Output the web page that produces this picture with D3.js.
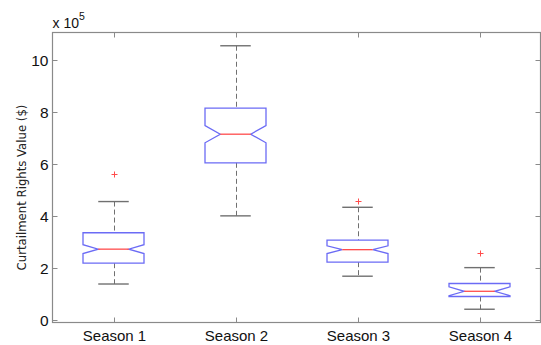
<!DOCTYPE html>
<html>
<head>
<meta charset="utf-8">
<script src="https://cdn.jsdelivr.net/npm/d3@7"></script>
<style>
  body { margin: 0; background: #fff; }
  svg { display: block; }
</style>
</head>
<body>
<div id="chart"></div>
<script>
// values in units of 1e5 $
const seasons = ["Season 1", "Season 2", "Season 3", "Season 4"];
const whiskerLo = [1.38, 4.0, 1.68, 0.41];
const q1 = [2.18, 6.04, 2.22, 0.90];
const median = [2.72, 7.14, 2.70, 1.10];
const q3 = [3.35, 8.14, 3.07, 1.40];
const whiskerHi = [4.55, 10.54, 4.33, 2.01];
const notchHalf = [0.17, 0.33, 0.15, 0.17];
const outliers = [[5.6], [], [4.58], [2.56]];
const yTicks = [0, 2, 4, 6, 8, 10];

const width = 541, height = 345;
const plot = { left: 52.5, right: 540.5, top: 32.5, bottom: 322.5 };

const svg = d3.select("#chart").append("svg")
    .attr("width", width)
    .attr("height", height);

const x = d3.scaleLinear().domain([0.5, 4.5]).range([plot.left, plot.right]);
const y = d3.scaleLinear().domain([-0.1, 11.05]).range([plot.bottom, plot.top]);

const axisColor = "#8a8a8a";
const tickLen = 5;
const font = "Liberation Sans, Arial, sans-serif";

// frame
svg.append("rect")
    .attr("x", plot.left).attr("y", plot.top)
    .attr("width", plot.right - plot.left)
    .attr("height", plot.bottom - plot.top)
    .attr("fill", "none")
    .attr("stroke", axisColor)
    .attr("stroke-width", 1.2);

// y ticks on both sides
yTicks.forEach(t => {
    const yy = Math.round(y(t)) + 0.5;
    svg.append("line").attr("x1", plot.left).attr("x2", plot.left + tickLen)
        .attr("y1", yy).attr("y2", yy).attr("stroke", axisColor);
    svg.append("line").attr("x1", plot.right).attr("x2", plot.right - tickLen)
        .attr("y1", yy).attr("y2", yy).attr("stroke", axisColor);
    svg.append("text")
        .attr("x", plot.left - 4)
        .attr("y", yy)
        .attr("dy", "0.36em")
        .attr("text-anchor", "end")
        .attr("font-family", font)
        .attr("font-size", "15.5px")
        .attr("fill", "#111")
        .text(t);
});

// x ticks top and bottom
seasons.forEach((s, i) => {
    const xx = Math.round(x(i + 1)) + 0.5;
    svg.append("line").attr("x1", xx).attr("x2", xx)
        .attr("y1", plot.bottom).attr("y2", plot.bottom - tickLen).attr("stroke", axisColor);
    svg.append("line").attr("x1", xx).attr("x2", xx)
        .attr("y1", plot.top).attr("y2", plot.top + tickLen).attr("stroke", axisColor);
    svg.append("text")
        .attr("x", xx)
        .attr("y", 340.5)
        .attr("text-anchor", "middle")
        .attr("font-family", font)
        .attr("font-size", "15px")
        .attr("fill", "#111")
        .text(s);
});

// exponent label
const expo = svg.append("text")
    .attr("x", plot.left)
    .attr("y", 28)
    .attr("font-family", font)
    .attr("font-size", "14px")
    .attr("fill", "#111");
expo.append("tspan").text("x 10");
expo.append("tspan").attr("dy", -8).attr("font-size", "10.5px").text("5");

// y label
svg.append("text")
    .attr("transform", `translate(26, ${(plot.top + plot.bottom) / 2 + 10}) rotate(-90)`)
    .attr("text-anchor", "middle")
    .attr("font-family", "Liberation Sans Narrow, DejaVu Sans Condensed, Arial, sans-serif")
    .attr("font-size", "13px")
    .attr("fill", "#222")
    .text("Curtailment Rights Value ($)");

const boxHalf = 0.25;   // box width 0.5
const capHalf = 0.125;
const boxColor = "#6b6bf5";
const medColor = "#ff4c4c";
const whiskColor = "#707070";

const g = svg.append("g");

seasons.forEach((s, i) => {
    const c = i + 1;
    const xl = x(c - boxHalf), xr = x(c + boxHalf);
    const nl = x(c - boxHalf / 2), nr = x(c + boxHalf / 2);
    const yq1 = y(q1[i]), yq3 = y(q3[i]), ym = y(median[i]);
    const ynLo = y(median[i] - notchHalf[i]), ynHi = y(median[i] + notchHalf[i]);
    const xc = Math.round(x(c)) + 0.5;

    // whiskers (dashed)
    g.append("line").attr("x1", xc).attr("x2", xc)
        .attr("y1", y(whiskerHi[i])).attr("y2", yq3)
        .attr("stroke", whiskColor).attr("stroke-dasharray", "5,3");
    g.append("line").attr("x1", xc).attr("x2", xc)
        .attr("y1", yq1).attr("y2", y(whiskerLo[i]))
        .attr("stroke", whiskColor).attr("stroke-dasharray", "5,3");
    // caps
    [whiskerHi[i], whiskerLo[i]].forEach(v => {
        g.append("line").attr("x1", x(c - capHalf)).attr("x2", x(c + capHalf))
            .attr("y1", y(v)).attr("y2", y(v))
            .attr("stroke", whiskColor).attr("stroke-width", 1.4);
    });

    // notched box
    const pts = [
        [xl, yq1], [xl, ynLo], [nl, ym], [xl, ynHi], [xl, yq3],
        [xr, yq3], [xr, ynHi], [nr, ym], [xr, ynLo], [xr, yq1]
    ];
    g.append("path")
        .attr("d", d3.line()(pts) + "Z")
        .attr("fill", "none")
        .attr("stroke", boxColor)
        .attr("stroke-width", 1.3);

    // median
    g.append("line").attr("x1", nl).attr("x2", nr)
        .attr("y1", ym).attr("y2", ym)
        .attr("stroke", medColor).attr("stroke-width", 1.3);

    // outliers
    outliers[i].forEach(v => {
        const oy = Math.round(y(v)) + 0.5;
        g.append("path")
            .attr("d", `M${xc - 3},${oy}H${xc + 3}M${xc},${oy - 3}V${oy + 3}`)
            .attr("stroke", medColor)
            .attr("stroke-width", 1);
    });
});
</script>
</body>
</html>
